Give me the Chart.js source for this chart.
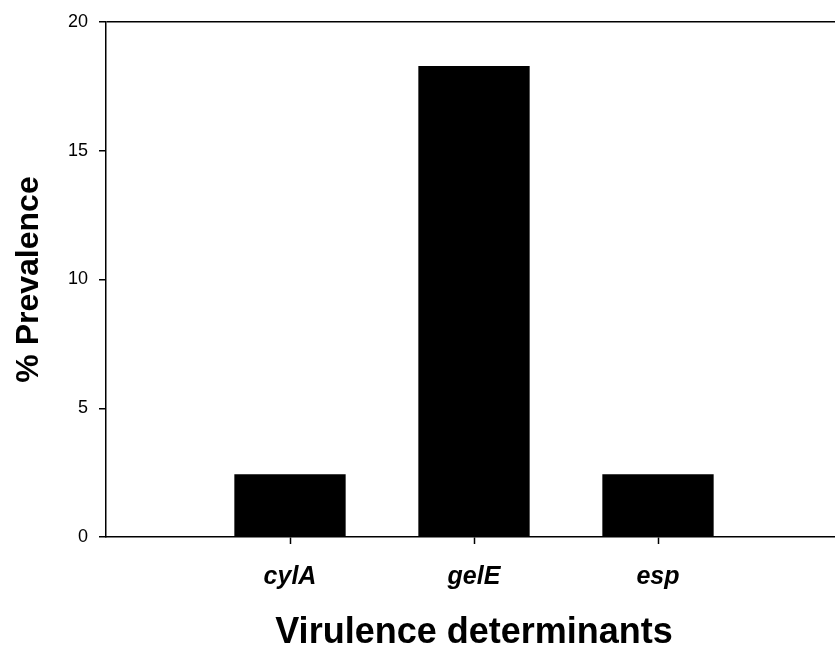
<!DOCTYPE html>
<html>
<head>
<meta charset="utf-8">
<script src="https://cdn.jsdelivr.net/npm/chart.js@4"></script>
<style>
  html, body { margin: 0; padding: 0; background: #fff; overflow: hidden; }
  #wrap { width: 842px; height: 649px; }
</style>
</head>
<body>
<div id="wrap"><canvas id="chart" width="842" height="649"></canvas></div>
<script>
const categories = ['cylA', 'gelE', 'esp'];
const prevalence = [2.44, 18.29, 2.44];
const yTicks = [0, 5, 10, 15, 20];

const xTitle = 'Virulence determinants';
const yTitle = '% Prevalence';

// empty slot on each side so the bars sit at 1, 2, 3 on a 0..4 axis
const labels = ['', ...categories, ''];
const values = [null, ...prevalence, null];

const font = 'Liberation Sans, Arial, Helvetica, sans-serif';
const ink = '#000';

new Chart(document.getElementById('chart'), {
    type: 'bar',
    data: {
        labels: labels,
        datasets: [{
            data: values,
            backgroundColor: ink,
            borderWidth: 0,
            categoryPercentage: 1,
            barPercentage: 0.605
        }]
    },
    options: {
        responsive: false,
        animation: false,
        layout: { padding: { top: 22, right: 0, left: 0, bottom: 0 } },
        plugins: {
            legend: { display: false },
            tooltip: { enabled: false }
        },
        scales: {
            x: {
                offset: false,
                afterFit: s => { s.height = 112; },
                afterBuildTicks: axis => {
                    axis.ticks = axis.ticks.filter(t => labels[t.value] !== '');
                },
                border: { color: ink, width: 1.5 },
                grid: { offset: false, drawOnChartArea: false, tickLength: 7, tickColor: ink, tickWidth: 1.5 },
                ticks: {
                    color: ink,
                    padding: 18,
                    autoSkip: false,
                    maxRotation: 0,
                    font: { family: font, size: 25, style: 'italic', weight: 'bold' }
                },
                title: {
                    display: true,
                    text: xTitle,
                    color: ink,
                    padding: 0,
                    font: { family: font, size: 36, weight: 'bold', lineHeight: 0.9 }
                }
            },
            y: {
                min: 0,
                max: 20,
                afterFit: s => { s.width = 106; },
                afterBuildTicks: axis => {
                    axis.ticks = yTicks.map(v => ({ value: v }));
                },
                border: { color: ink, width: 1.5 },
                grid: {
                    color: ctx => (ctx.tick && ctx.tick.value === 20 ? ink : 'transparent'),
                    lineWidth: 1.5,
                    tickLength: 7,
                    tickColor: ink,
                    tickWidth: 1.5
                },
                ticks: {
                    color: ink,
                    padding: 11,
                    font: { family: font, size: 18 }
                },
                title: {
                    display: true,
                    text: yTitle,
                    color: ink,
                    padding: { top: 10, bottom: 0 },
                    font: { family: font, size: 32, weight: 'bold' }
                }
            }
        }
    }
});
</script>
</body>
</html>
